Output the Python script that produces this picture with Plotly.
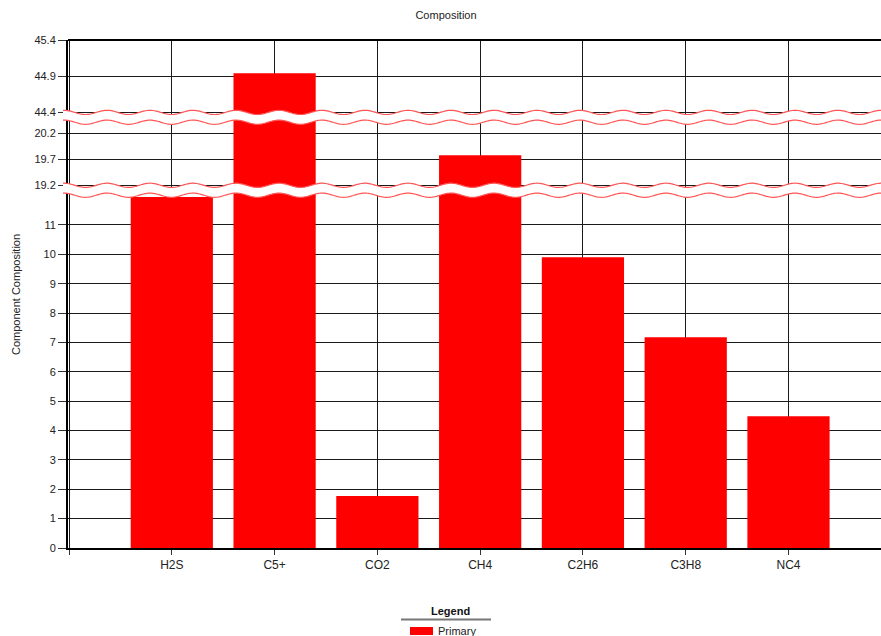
import math
import plotly.graph_objects as go

# ---- data ----
categories = ["H2S", "C5+", "CO2", "CH4", "C2H6", "C3H8", "NC4"]
primary = [11.95, 44.94, 1.77, 19.78, 9.9, 7.18, 4.49]

low_ticks = [0, 1, 2, 3, 4, 5, 6, 7, 8, 9, 10, 11]
mid_ticks = [19.2, 19.7, 20.2]
top_ticks = [44.4, 44.9, 45.4]

# ---- geometry (pixels) ----
W, H = 881, 636
L, T, B = 68, 40, 88
PW = W - L
PH = H - T - B
Y0 = H - B  # pixel y of paper 0


def px2x(px):
    return (px - L) / PW


def py2y(py):
    return (Y0 - py) / PH


xs = list(range(len(categories)))

fig = go.Figure()
for ax in ["y", "y2", "y3"]:
    fig.add_trace(go.Bar(
        x=xs, y=primary, yaxis=ax, xaxis="x", name="Primary",
        marker=dict(color="#ff0000", line=dict(width=0)),
        width=0.8, showlegend=False, hoverinfo="x+y",
    ))

tickfont = dict(family="Liberation Sans, Arial, sans-serif", size=11, color="#222")
common_y = dict(
    showline=True, linewidth=2, linecolor="#000", showgrid=True,
    gridcolor="#1a1a1a", gridwidth=1, ticks="outside", ticklen=8,
    tickcolor="#333", tickwidth=1, tickfont=tickfont, zeroline=False,
    anchor="x", fixedrange=True,
)

fig.update_layout(
    width=W, height=H,
    margin=dict(l=L, r=0, t=T, b=B),
    paper_bgcolor="white", plot_bgcolor="white",
    bargap=0.2,
    title=dict(text="Composition", x=446 / W, xanchor="center",
               y=1 - 15 / H, yanchor="middle",
               font=dict(family="Liberation Sans, Arial, sans-serif", size=11, color="#222")),
    xaxis=dict(
        range=[-1.01, 6.9], tickmode="array", tickvals=[-1] + xs,
        ticktext=[""] + categories, showline=True, linewidth=2, linecolor="#000",
        showgrid=True, gridcolor="#1a1a1a", gridwidth=1, ticks="outside",
        ticklen=5, tickcolor="#333", zeroline=False, anchor="y",
        tickfont=dict(family="Liberation Sans Narrow, Arial Narrow, Liberation Sans, sans-serif",
                      size=12, color="#222"),
        fixedrange=True,
    ),
    yaxis=dict(range=[0, 12.15], domain=[0, py2y(191.2)], tickmode="array",
               tickvals=low_ticks, **common_y),
    yaxis2=dict(range=[19.2 - 2.7 / 52, 19.2 + 65.8 / 52], domain=[py2y(188), py2y(119.5)],
                tickmode="array", tickvals=mid_ticks, ticktext=[f"{v:.1f}" for v in mid_ticks],
                **common_y),
    yaxis3=dict(range=[45.4 - 75 / 72.4, 45.4], domain=[py2y(115), 1], tickmode="array",
                tickvals=top_ticks, ticktext=[f"{v:.1f}" for v in top_ticks], **common_y),
)

shapes = []
# top frame line
shapes.append(dict(type="line", xref="paper", yref="paper", x0=0, x1=1, y0=1, y1=1,
                   line=dict(color="#000", width=2), layer="above"))


def wave(yc, x_start=63, x_end=890, amp=2.1, period=43.0, phase_x=107.0):
    pts = []
    x = x_start
    while x <= x_end:
        y = yc - amp * math.cos(2 * math.pi * (x - phase_x) / period)
        pts.append((x, y))
        x += 1.5
    return pts


def break_shapes(yc_top, yc_bot):
    top = wave(yc_top)
    bot = wave(yc_bot)
    band = "M " + " L ".join(f"{px2x(x):.5f},{py2y(y):.5f}" for x, y in top)
    band += " L " + " L ".join(f"{px2x(x):.5f},{py2y(y):.5f}" for x, y in reversed(bot)) + " Z"
    out = [dict(type="path", xref="paper", yref="paper", path=band,
                fillcolor="white", line=dict(width=0), layer="above")]
    for pts in (top, bot):
        p = "M " + " L ".join(f"{px2x(x):.5f},{py2y(y):.5f}" for x, y in pts)
        out.append(dict(type="path", xref="paper", yref="paper", path=p,
                        line=dict(color="rgb(255,85,85)", width=1.2), layer="above"))
    return out


shapes += break_shapes(112.4, 122.2)
shapes += break_shapes(185.3, 195.2)

# legend (manual)
shapes.append(dict(type="line", xref="paper", yref="paper",
                   x0=px2x(401), x1=px2x(491), y0=py2y(619.5), y1=py2y(619.5),
                   line=dict(color="#777", width=2)))
shapes.append(dict(type="rect", xref="paper", yref="paper",
                   x0=px2x(410), x1=px2x(433), y0=py2y(627), y1=py2y(635),
                   fillcolor="#ff0000", line=dict(width=0)))

annotations = [
    dict(text="Component Composition", textangle=-90, xref="paper", yref="paper",
         x=px2x(16), y=py2y(295), showarrow=False, xanchor="center", yanchor="middle",
         font=dict(family="Liberation Sans, Arial, sans-serif", size=11, color="#222")),
    dict(text="<b>Legend</b>", xref="paper", yref="paper", x=px2x(450), y=py2y(611),
         showarrow=False, xanchor="center", yanchor="middle",
         font=dict(family="Liberation Sans, Arial, sans-serif", size=11, color="#111")),
    dict(text="Primary", xref="paper", yref="paper", x=px2x(436), y=py2y(631),
         showarrow=False, xanchor="left", yanchor="middle",
         font=dict(family="Liberation Sans, Arial, sans-serif", size=11, color="#222")),
]

fig.update_layout(shapes=shapes, annotations=annotations)
fig.write_html("out.html", config={"displayModeBar": False})

# remove default page margin so the figure sits at the window's top-left corner
with open("out.html", "r", encoding="utf-8") as f:
    html = f.read()
html = html.replace("<head>", "<head><style>html,body{margin:0;padding:0;overflow:hidden;}</style>", 1)
with open("out.html", "w", encoding="utf-8") as f:
    f.write(html)
